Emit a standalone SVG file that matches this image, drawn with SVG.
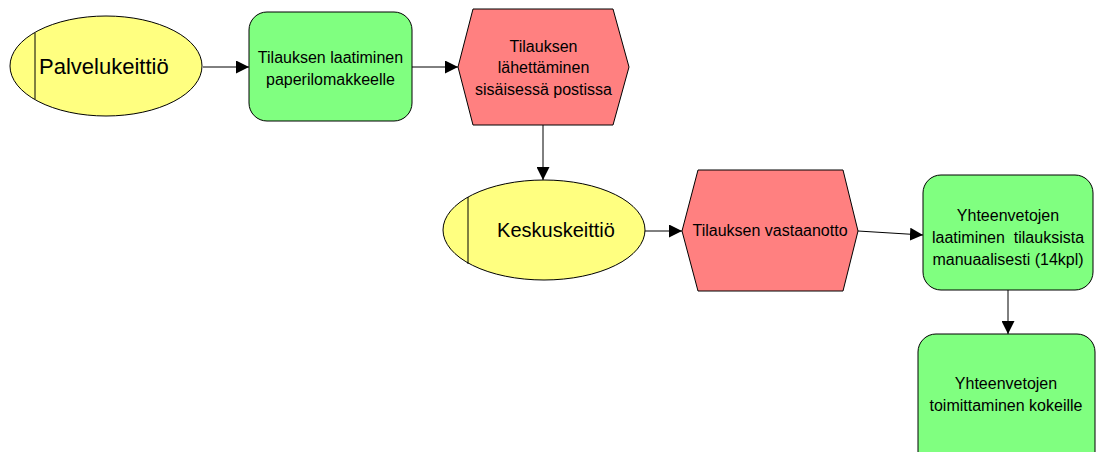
<svg xmlns="http://www.w3.org/2000/svg" width="1096" height="452" viewBox="0 0 1096 452">
<defs>
<marker id="ah" viewBox="0 0 10 10" refX="10" refY="5" markerWidth="13" markerHeight="13" markerUnits="userSpaceOnUse" orient="auto">
<path d="M0,0 L10,5 L0,10 z" fill="#000"/>
</marker>
<style>
.org{fill:#FFFF80;stroke:#000;stroke-width:1}
.fn{fill:#80FF80;stroke:#000;stroke-width:1}
.ev{fill:#FF8080;stroke:#000;stroke-width:1}
.t{font-family:"Liberation Sans",Arial,sans-serif;font-size:16px;fill:#000;text-anchor:middle;white-space:pre}
.big{font-family:"Liberation Sans",Arial,sans-serif;font-size:22px;fill:#000}
.c{fill:none;stroke:#000;stroke-width:1;marker-end:url(#ah)}
</style>
</defs>
<rect width="1096" height="452" fill="#fff"/>
<g id="connectors">
<line class="c" x1="203" y1="67" x2="249" y2="67"/>
<line class="c" x1="412" y1="67" x2="458" y2="67"/>
<line class="c" x1="543" y1="125" x2="543" y2="180"/>
<line class="c" x1="645" y1="231" x2="682" y2="231"/>
<line class="c" x1="858" y1="231" x2="923" y2="235"/>
<line class="c" x1="1008" y1="290" x2="1008" y2="334"/>
</g>
<g id="palvelukeittio">
<ellipse class="org" cx="106" cy="66" rx="96" ry="50"/>
<line x1="35" y1="33" x2="35" y2="99" stroke="#000" stroke-width="1"/>
<text class="big" x="39" y="74">Palvelukeittiö</text>
</g>
<g id="tilauksen-laatiminen">
<rect class="fn" x="249" y="12" width="163" height="109" rx="18"/>
<text class="t" x="330.5" y="63">Tilauksen laatiminen</text>
<text class="t" x="330.5" y="85">paperilomakkeelle</text>
</g>
<g id="tilauksen-lahettaminen">
<polygon class="ev" points="473,9 613,9 629,67 613,125 473,125 458,67"/>
<text class="t" x="543.5" y="52">Tilauksen</text>
<text class="t" x="543.5" y="73">lähettäminen</text>
<text class="t" x="543.5" y="95">sisäisessä postissa</text>
</g>
<g id="keskuskeittio">
<ellipse class="org" cx="544" cy="230" rx="101" ry="50"/>
<line x1="468" y1="197" x2="468" y2="264" stroke="#000" stroke-width="1"/>
<text class="t" x="556" y="237" style="font-size:20px">Keskuskeittiö</text>
</g>
<g id="tilauksen-vastaanotto">
<polygon class="ev" points="698,170 843,170 858,231 843,291 698,291 682,231"/>
<text class="t" x="770" y="236">Tilauksen vastaanotto</text>
</g>
<g id="yhteenvetojen-laatiminen">
<rect class="fn" x="923" y="175" width="170" height="115" rx="18"/>
<text class="t" x="1008" y="221">Yhteenvetojen</text>
<text class="t" x="1008" y="243">laatiminen  tilauksista</text>
<text class="t" x="1008" y="265">manuaalisesti (14kpl)</text>
</g>
<g id="yhteenvetojen-toimittaminen">
<rect class="fn" x="918" y="334" width="177" height="140" rx="18"/>
<text class="t" x="1006" y="389">Yhteenvetojen</text>
<text class="t" x="1006" y="411">toimittaminen kokeille</text>
</g>
</svg>
